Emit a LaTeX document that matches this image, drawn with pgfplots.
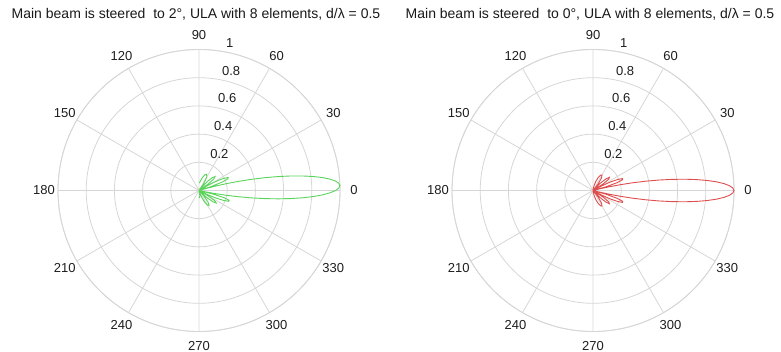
\documentclass[border=0pt]{standalone}
\usepackage{pgfplots}
\pgfplotsset{compat=1.18}
\usepgfplotslibrary{polar}
\usepackage{fontspec}
\setmainfont{Liberation Sans}
\definecolor{gridgray}{RGB}{214,214,214}
\definecolor{txt}{RGB}{30,30,30}
\definecolor{pgreen}{RGB}{90,212,90}
\definecolor{pred}{RGB}{222,78,78}
\newcommand\lbl{\fontsize{13}{15}\selectfont}
\newcommand\ttl{\fontsize{14}{16}\selectfont}
\pgfplotsset{
  mypolar/.style={
    anchor=origin,
    width=282pt, height=282pt, scale only axis,
    xmin=0, xmax=360, ymin=0, ymax=1,
    xtick={0,30,...,330}, ytick={0.2,0.4,0.6,0.8,1},
    xticklabels={}, yticklabels={},
    grid=major,
    major grid style={draw=gridgray, line width=0.8pt},
    axis line style={draw=gridgray, line width=0.8pt},
    major tick length=0pt,
    clip=false,
  },
}
\newcommand\polarlabels{%
  \node[font=\lbl,text=txt] at (axis cs:0,1.1) {0};
  \node[font=\lbl,text=txt] at (axis cs:30,1.1) {30};
  \node[font=\lbl,text=txt] at (axis cs:60,1.1) {60};
  \node[font=\lbl,text=txt] at (axis cs:90,1.1) {90};
  \node[font=\lbl,text=txt] at (axis cs:120,1.1) {120};
  \node[font=\lbl,text=txt] at (axis cs:150,1.1) {150};
  \node[font=\lbl,text=txt] at (axis cs:180,1.1) {180};
  \node[font=\lbl,text=txt] at (axis cs:210,1.1) {210};
  \node[font=\lbl,text=txt] at (axis cs:240,1.1) {240};
  \node[font=\lbl,text=txt] at (axis cs:270,1.1) {270};
  \node[font=\lbl,text=txt] at (axis cs:300,1.1) {300};
  \node[font=\lbl,text=txt] at (axis cs:330,1.1) {330};
  \node[font=\lbl,text=txt,anchor=south west,inner sep=0pt,xshift=7pt,yshift=2pt] at (axis cs:82,0.21) {0.2};
  \node[font=\lbl,text=txt,anchor=south west,inner sep=0pt,xshift=7pt,yshift=2pt] at (axis cs:82,0.41) {0.4};
  \node[font=\lbl,text=txt,anchor=south west,inner sep=0pt,xshift=7pt,yshift=2pt] at (axis cs:82,0.61) {0.6};
  \node[font=\lbl,text=txt,anchor=south west,inner sep=0pt,xshift=7pt,yshift=2pt] at (axis cs:82,0.81) {0.8};
  \node[font=\lbl,text=txt,anchor=south west,inner sep=0pt,xshift=7pt,yshift=2pt] at (axis cs:82,1.01) {1};
}
\begin{document}
\begin{tikzpicture}
\path[use as bounding box] (0,0) rectangle (781pt,352pt);
% left: steered to 2 degrees
\begin{polaraxis}[mypolar, at={(199pt,161.5pt)}]
\addplot[pgreen, line width=0.9pt] coordinates {
(-90,0.0532) (-86,0.0497) (-82,0.0389) (-78,0.0204) (-74.82,0) (-72,0.0220)
(-68,0.0574) (-64,0.0930) (-60,0.1199) (-56,0.1267) (-52,0.1031) (-48,0.0459)
(-45.65,0) (-44,0.0349) (-42,0.0764) (-39,0.1274) (-36,0.1506) (-33,0.1332)
(-30,0.0713) (-27.72,0) (-26,0.0609) (-24,0.1309) (-22,0.1891) (-20,0.2239)
(-18,0.2248) (-16,0.1839) (-14,0.0981) (-12.42,0) (-12,0.0301) (-11,0.1080)
(-10,0.1933) (-9,0.2839) (-8,0.3777) (-7,0.4725) (-6,0.5660) (-5,0.6556)
(-4,0.7391) (-3,0.8140) (-2,0.8785) (-1,0.9304) (0,0.9687) (1,0.9921) (2,1)
(3,0.9921) (4,0.9688) (5,0.9307) (6,0.8790) (7,0.8150) (8,0.7407) (9,0.6581)
(10,0.5695) (11,0.4771) (12,0.3835) (13,0.2908) (14,0.2013) (15,0.1169)
(16,0.0396) (16.55,0) (18,0.0894) (20,0.1773) (22,0.2220) (24,0.2265)
(26,0.1977) (28,0.1452) (30,0.0795) (32.34,0) (35,0.0780) (38,0.1343)
(41,0.1508) (44,0.1317) (47,0.0877) (50,0.0322) (51.71,0) (55,0.0553)
(60,0.1103) (65,0.1275) (70,0.1177) (75,0.0958) (80,0.0738) (85,0.0585)
(90,0.0532)
};
\polarlabels
\node[font=\ttl,text=black!90,anchor=base,xshift=-3pt] at (axis cs:90,1.218) {Main beam is steered\ \ to 2°, ULA with 8 elements, d/λ = 0.5};
\end{polaraxis}
% right: steered to 0 degrees
\begin{polaraxis}[mypolar, at={(593pt,161.5pt)}]
\addplot[pred, line width=0.9pt] coordinates {
(-90,0) (-85,0.0060) (-80,0.0237) (-76,0.0456) (-72,0.0723) (-68,0.0997)
(-64,0.1210) (-60,0.1270) (-56,0.1086) (-52,0.0608) (-48.59,0) (-45,0.0716)
(-42,0.1224) (-39,0.1494) (-36,0.1399) (-33,0.0881) (-30,0) (-28,0.0696)
(-26,0.1376) (-24,0.1931) (-22,0.2252) (-20,0.2236) (-18,0.1810) (-16,0.0943)
(-14.48,0) (-14,0.0342) (-13,0.1118) (-12,0.1966) (-11,0.2867) (-10,0.3800)
(-9,0.4743) (-8,0.5673) (-7,0.6565) (-6,0.7396) (-5,0.8143) (-4,0.8786)
(-3,0.9305) (-2,0.9687) (-1,0.9921) (0,1) (1,0.9921) (2,0.9687) (3,0.9305)
(4,0.8786) (5,0.8143) (6,0.7396) (7,0.6565) (8,0.5673) (9,0.4743) (10,0.3800)
(11,0.2867) (12,0.1966) (13,0.1118) (14,0.0342) (14.48,0) (16,0.0943)
(18,0.1810) (20,0.2236) (22,0.2252) (24,0.1931) (26,0.1376) (28,0.0696)
(30,0) (33,0.0881) (36,0.1399) (39,0.1494) (42,0.1224) (45,0.0716) (48.59,0)
(52,0.0608) (56,0.1086) (60,0.1270) (64,0.1210) (68,0.0997) (72,0.0723)
(76,0.0456) (80,0.0237) (85,0.0060) (90,0)
};
\polarlabels
\node[font=\ttl,text=black!90,anchor=base,xshift=-3pt] at (axis cs:90,1.218) {Main beam is steered\ \ to 0°, ULA with 8 elements, d/λ = 0.5};
\end{polaraxis}
\end{tikzpicture}
\end{document}
